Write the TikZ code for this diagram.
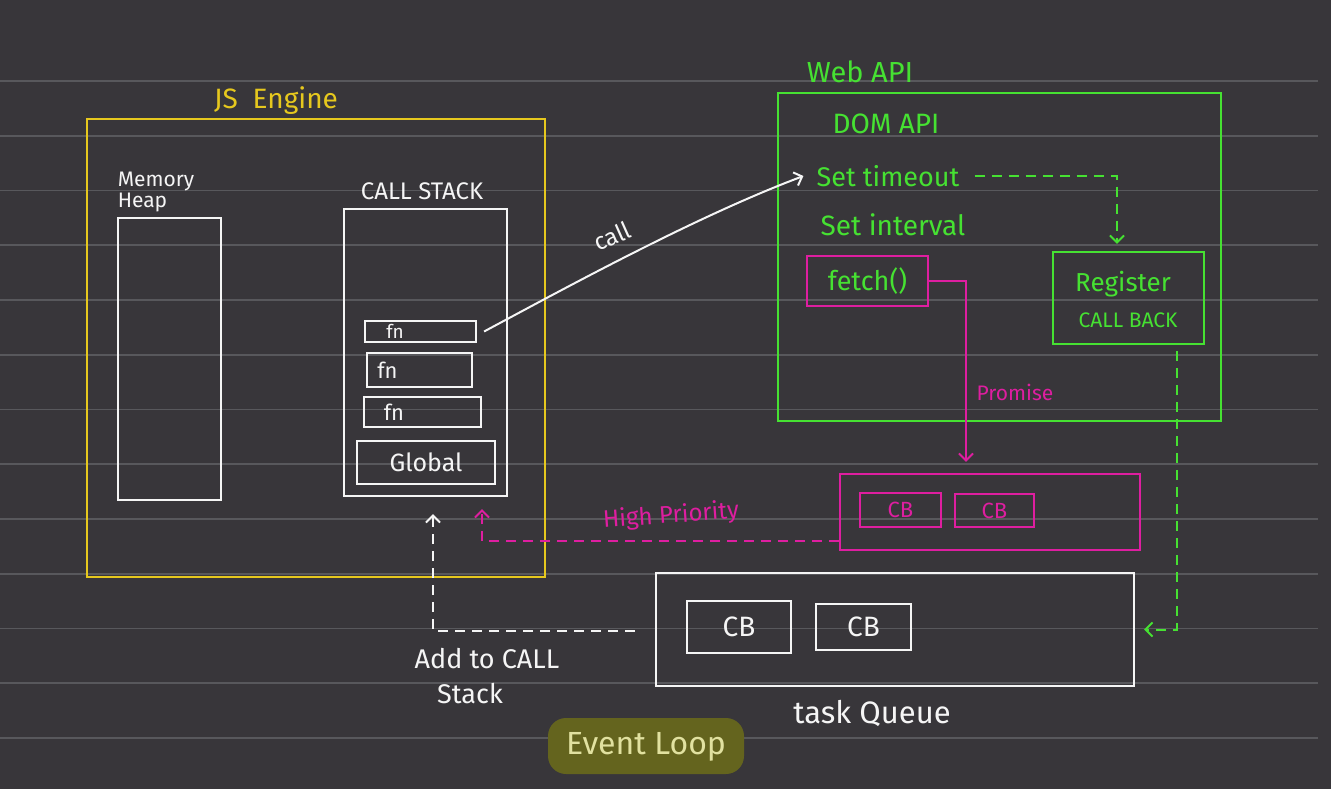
\documentclass[tikz,border=0pt]{standalone}
\usepackage{fontspec}
\setmainfont{Fira Sans}
\usetikzlibrary{arrows.meta,calc}
\definecolor{bgc}{RGB}{56,54,58}
\definecolor{rulec}{RGB}{88,88,92}
\definecolor{jsy}{RGB}{230,200,30}
\definecolor{wgreen}{RGB}{70,225,50}
\definecolor{mag}{RGB}{222,30,160}
\definecolor{chalk}{RGB}{245,245,245}
\definecolor{olive}{RGB}{100,100,30}
\definecolor{olivetxt}{RGB}{225,225,160}
\newcommand{\fs}[1]{\fontsize{#1}{#1}\selectfont}
\tikzset{
  box/.style={draw, line width=2.2pt, inner sep=0pt},
  lbl/.style={inner sep=1pt, font=\fs{22}},
  dsh/.style={line width=2pt, dash pattern=on 10pt off 7pt},
  tip/.style={-{Straight Barb[length=7pt,width=14pt,line width=2pt]}},
}
\begin{document}
\begin{tikzpicture}[x=1pt,y=-1pt]
\fill[bgc] (0,0) rectangle (1331,789);
\useasboundingbox (0,0) rectangle (1331,789);
\foreach \k in {0,...,12} \draw[rulec, line width=1.6pt] (0,{81+54.75*\k}) -- (1318,{81+54.75*\k});

% JS engine
\node[box, jsy, minimum width=458, minimum height=458] (js) at (316,348) {};
\node[lbl, jsy, font=\fs{28}] (jst) at (276,101) {JS\ \ Engine};
\node[box, chalk, minimum width=103, minimum height=282] (heap) at (169.5,359) {};
\node[lbl, chalk, align=left, font=\fs{21}] (heapt) at (156,192) {Memory\\Heap};
\node[box, chalk, minimum width=163, minimum height=287] (stack) at (425.5,352.5) {};
\node[lbl, chalk, font=\fs{24}] (stackt) at (422,191) {CALL STACK};
\node[box, chalk, minimum width=111, minimum height=21, font=\fs{19}, text=chalk] (fn1) at (420.5,331.5) {\hspace*{-51pt}fn};
\node[box, chalk, minimum width=105, minimum height=34, font=\fs{22}, text=chalk] (fn2) at (419.5,370) {\hspace*{-64pt}fn};
\node[box, chalk, minimum width=117, minimum height=30, font=\fs{22}, text=chalk] (fn3) at (422.5,412) {\hspace*{-57pt}fn};
\node[box, chalk, minimum width=138, minimum height=43, font=\fs{25}, text=chalk] (glob) at (426,462.5) {Global};

% Web API
\node[box, wgreen, minimum width=443, minimum height=328] (web) at (999.5,257) {};
\node[lbl, wgreen, font=\fs{29}] (webt) at (860,72) {Web API};
\node[lbl, wgreen, font=\fs{28}] (dom) at (886,124) {DOM API};
\node[lbl, wgreen, font=\fs{27}] (st) at (888,176) {Set timeout};
\node[lbl, wgreen, font=\fs{28}] (si) at (893,225) {Set interval};
\node[box, mag, minimum width=121, minimum height=50, text=wgreen, font=\fs{27}] (fetch) at (867.5,281) {fetch()};
\node[box, wgreen, minimum width=151, minimum height=92] (reg) at (1128.5,298) {};
\node[lbl, wgreen, font=\fs{26}] (regt) at (1123,284) {Register};
\node[lbl, wgreen, font=\fs{21}] (cbt) at (1128,320) {CALL BACK};
\node[lbl, mag, font=\fs{21}] (prom) at (1015,392) {Promise};

% microtask queue
\node[box, mag, minimum width=300, minimum height=76] (micro) at (990,512) {};
\node[box, mag, minimum width=81, minimum height=34, text=mag, font=\fs{22}] (mcb1) at (900.5,510) {CB};
\node[box, mag, minimum width=79, minimum height=33, text=mag, font=\fs{22}] (mcb2) at (994.5,510.5) {CB};
\node[lbl, mag, font=\fs{24}, rotate=4] (hp) at (671,516) {High Priority};

% task queue
\node[box, chalk, minimum width=478, minimum height=113] (task) at (895,629.5) {};
\node[box, chalk, minimum width=104, minimum height=52, text=chalk, font=\fs{28}] (tcb1) at (739,627) {CB};
\node[box, chalk, minimum width=95, minimum height=46, text=chalk, font=\fs{28}] (tcb2) at (863.5,627) {CB};
\node[lbl, chalk, font=\fs{31}] (tq) at (872,713) {task Queue};
\node[lbl, chalk, font=\fs{27}] (add1) at (487,659) {Add to CALL};
\node[lbl, chalk, font=\fs{27}] (add2) at (470,694) {Stack};

% event loop
\node[fill=olive, rounded corners=18pt, minimum width=196, minimum height=56, inner sep=0pt] (elbg) at (646,746) {};
\node[lbl, olivetxt, font=\fs{32}] (el) at (646,747) {Event Loop};

% connectors
\draw[chalk, line width=2pt, tip] ([xshift=7pt]fn1.east) .. controls (580,280) and (700,215) .. ([xshift=-12pt]st.west);
\node[lbl, chalk, font=\fs{24}, rotate=24] (callt) at (612,236) {call};
\draw[wgreen, dsh, tip] ([xshift=14pt]st.east) -| ([xshift=-11.5pt,yshift=7pt]reg.north);
\draw[wgreen, dsh, tip] ([xshift=48pt,yshift=-6pt]reg.south) |- ([xshift=9pt]task.east);
\draw[mag, line width=2pt, tip] (fetch.east) -| ([xshift=-24pt,yshift=11pt]micro.north);
\draw[mag, dsh, tip] ([yshift=-29pt]micro.west) -| ([xshift=56.5pt,yshift=-12pt]stack.south);
\draw[chalk, dsh, tip] ([xshift=-20pt,yshift=-1.5pt]task.west) -| ([xshift=7.5pt,yshift=-17pt]stack.south);
\end{tikzpicture}
\end{document}
